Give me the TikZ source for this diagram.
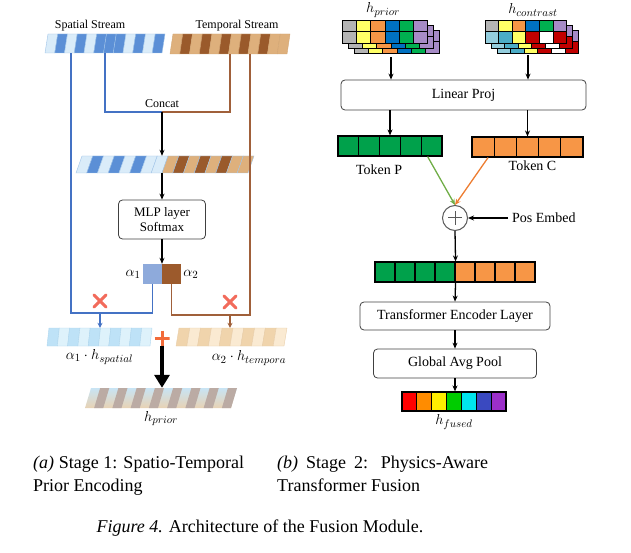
\documentclass[tikz,border=0pt]{standalone}
\usepackage{fontspec}
\setmainfont{Liberation Serif}
\usetikzlibrary{positioning,arrows.meta,shapes.misc}
% stream stripes
\definecolor{spl}{RGB}{218,236,249}
\definecolor{spb}{RGB}{91,143,214}
\definecolor{spe}{RGB}{160,196,232}
\definecolor{tpl}{RGB}{222,176,124}
\definecolor{tpb}{RGB}{154,90,43}
\definecolor{tpe}{RGB}{210,165,115}
\definecolor{wsl}{RGB}{190,226,247}
\definecolor{wsb}{RGB}{222,242,251}
\definecolor{wse}{RGB}{175,214,238}
\definecolor{wtl}{RGB}{240,212,172}
\definecolor{wtb}{RGB}{250,234,210}
\definecolor{wte}{RGB}{232,205,168}
\definecolor{hpg}{RGB}{187,171,164}
\definecolor{hpt}{RGB}{200,228,244}
\definecolor{hpb}{RGB}{232,210,180}
\definecolor{lineblue}{RGB}{68,114,196}
\definecolor{linebrown}{RGB}{160,96,58}
\definecolor{alblue}{RGB}{142,170,219}
\definecolor{albrown}{RGB}{156,90,44}
\definecolor{xred}{RGB}{242,107,91}
\definecolor{plusor}{RGB}{242,107,58}
% grid cells
\definecolor{cgray}{RGB}{180,180,180}
\definecolor{cyel}{RGB}{255,255,102}
\definecolor{cora}{RGB}{247,150,70}
\definecolor{cblu}{RGB}{0,112,192}
\definecolor{cgrn}{RGB}{0,176,80}
\definecolor{cpur}{RGB}{166,139,198}
\definecolor{clbl}{RGB}{147,205,221}
\definecolor{cmbl}{RGB}{75,172,198}
\definecolor{cred}{RGB}{192,0,0}
% tokens
\definecolor{tokg}{RGB}{0,161,75}
\definecolor{toko}{RGB}{247,150,70}
\definecolor{argr}{RGB}{112,173,71}
\definecolor{aror}{RGB}{237,125,49}
\definecolor{fr}{RGB}{255,0,0}
\definecolor{fo}{RGB}{255,140,0}
\definecolor{fy}{RGB}{255,238,0}
\definecolor{fg}{RGB}{0,204,0}
\definecolor{fc}{RGB}{0,229,238}
\definecolor{fb}{RGB}{58,73,192}
\definecolor{fp}{RGB}{155,47,201}

% slanted striped bar: x (bottom left), y (top), stripe width, height, slant, colours, edge colour
\newcommand\slantbar[7]{%
  \foreach \c [count=\i from 0] in {#6}
    \filldraw[fill=\c, draw=#7, line width=.4pt]
      ({#1+\i*#3},{#2+#4}) -- ++(#3,0) -- ++(#5,-#4) -- ++(-#3,0) -- cycle;
}
% one layer of a 2x6 feature grid: x, y, cell width, row 1, row 2
\newcommand\gridlayer[5]{%
  \foreach \c [count=\i from 0] in {#4}
    \filldraw[fill=\c, draw=black, line width=.8pt] ({#1+\i*#3},#2) rectangle ++(#3,11.5);
  \foreach \c [count=\i from 0] in {#5}
    \filldraw[fill=\c, draw=black, line width=.8pt] ({#1+\i*#3},{#2+11.5}) rectangle ++(#3,11.5);
}

\begin{document}
\begin{tikzpicture}[
  x=1pt, y=-1pt,
  lbl/.style={font=\fontsize{12}{14}\selectfont, inner sep=1pt},
  mlbl/.style={font=\fontsize{13}{15}\selectfont, inner sep=1pt},
  mathlbl/.style={font=\fontsize{15}{17}\selectfont, inner sep=1pt},
  rlbl/.style={font=\fontsize{14}{16}\selectfont, inner sep=1pt},
  capt/.style={font=\fontsize{18}{23}\selectfont, inner sep=0pt},
  box/.style={draw=black!75, rounded corners=4pt, line width=.8pt, align=center, inner sep=2pt},
  barspot/.style 2 args={inner sep=0pt, minimum width=#1, minimum height=#2},
  cell/.style={draw=black, line width=1.1pt, minimum height=20pt, inner sep=0pt},
  arr/.style={-{Stealth[length=6pt,width=5pt]}, line width=1.3pt},
  bline/.style={lineblue, line width=1.4pt},
  tline/.style={linebrown, line width=1.4pt},
  nope/.style={cross out, draw=xred, line width=3pt, line cap=round, minimum size=9pt, inner sep=0pt},
  bigarr/.style={-{Triangle[length=13pt,width=15pt]}, line width=4.5pt},
  plussign/.style={minimum size=15pt, inner sep=0pt, path picture={
    \draw[plusor, line width=3pt] (path picture bounding box.north) -- (path picture bounding box.south)
      (path picture bounding box.west) -- (path picture bounding box.east);}},
  sumnode/.style={circle, draw=black!65, line width=1pt, minimum size=25pt, inner sep=0pt, path picture={
    \draw[black!65, line width=1pt] ([xshift=-7pt]path picture bounding box.center) -- ([xshift=7pt]path picture bounding box.center)
      ([yshift=-7pt]path picture bounding box.center) -- ([yshift=7pt]path picture bounding box.center);}},
]
\useasboundingbox (0,0) rectangle (631,553);

% ===== (a) spatio-temporal prior =====
\slantbar{45}{34}{9.75}{19}{3}{spl,spb,spl,spb,spl,spb,spb,spb,spl,spb,spl,spb}{spe}
\node[barspot={120pt}{19pt}] (sp) at (105,43.5) {};
\node[lbl, above=2pt of sp, xshift=-15pt] (spn) {Spatial Stream};
\slantbar{170}{34}{9.75}{20}{3}{tpl,tpb,tpl,tpb,tpl,tpb,tpl,tpb,tpl,tpb,tpl,tpl}{tpe}
\node[barspot={120pt}{20pt}] (tp) at (230,44) {};
\node[lbl, above=2pt of tp, xshift=7pt] (tpn) {Temporal Stream};

% concat
\coordinate (cc) at (162,112);
\draw[bline] ([xshift=60pt]sp.south west) |- (cc);
\draw[tline] ([xshift=60pt]tp.south west) |- (cc);
\node[lbl, above=3pt of cc] (ccn) {Concat};
\slantbar{76}{156}{10.75}{17}{6}{spl,spb,spl,spb,spl,spb,spl,spl,tpl,tpb,tpl,tpb,tpl,tpb,tpl,tpl}{spe}
\node[barspot={178pt}{17pt}] (cat) at (165,164.5) {};
\draw[arr] (cc) -- (cc |- cat.north);

% attention weights
\node[box, mlbl, minimum width=87pt, minimum height=39pt] (mlp) at (162,219.5) {MLP layer\\Softmax};
\draw[arr] (cc |- cat.south) -- (mlp.north);
\node[fill=alblue, minimum width=19pt, minimum height=20pt, inner sep=0pt] (a1) at (152.5,274) {};
\node[fill=albrown, minimum width=19pt, minimum height=20pt, inner sep=0pt] (a2) at (171.5,274) {};
\node[mathlbl, left=1pt of a1] (a1n) {$\alpha_1$};
\node[mathlbl, right=1pt of a2] (a2n) {$\alpha_2$};
\draw[arr] (mlp.south) -- (mlp.south |- a1.north);

% weighted streams
\slantbar{47}{328}{10.3}{18}{2}{wsl,wsb,wsl,wsb,wsl,wsb,wsl,wsb,wsl,wsb}{wse}
\node[barspot={105pt}{18pt}] (ws) at (99.5,337) {};
\slantbar{176}{328}{10.8}{18}{3}{wtl,wtb,wtl,wtb,wtl,wtb,wtl,wtb,wtl,wtb}{wte}
\node[barspot={111pt}{18pt}] (wt) at (231.5,337) {};
\coordinate (bj) at (100,313);
\coordinate (tj) at (230,315);
\draw[bline] ([xshift=26pt]sp.south west) |- (bj) -| (a1.south);
\draw[tline] ([xshift=80pt]tp.south west) |- (tj) -| (a2.south);
\draw[bline, -{Stealth[length=5pt,width=5pt]}] (bj) -- (bj |- ws.north);
\draw[tline, -{Stealth[length=5pt,width=5pt]}] (tj) -- (tj |- wt.north);
\node[nope] (xs) at (100,301) {};
\node[nope] (xt) at (230,302) {};
\node[mathlbl, below=2pt of ws] (wsn) {$\alpha_1\cdot h_{spatial}$};
\node[mathlbl] (wtn) at (249,358) {$\alpha_2\cdot h_{tempora}$};

% fused prior
\node[plussign] (plus) at (162,338) {};
\shade[top color=hpt, bottom color=hpb] (85,408) -- (231,408) -- (237,388) -- (91,388) -- cycle;
\foreach \i in {1,3,...,15}
  \fill[hpg] ({85+\i*9.125},408) -- ++(9.125,0) -- ++(6,-20) -- ++(-9.125,0) -- cycle;
\node[barspot={152pt}{20pt}] (hp) at (161,398) {};
\draw[bigarr] (plus.south) -- (plus.south |- hp.north);
\node[mathlbl, below=2pt of hp] (hpn) {$h_{prior}$};

% ===== (b) physics-aware fusion =====
\gridlayer{354}{30}{14.3}{cgray,cyel,cora,cblu,cgrn,cpur}{cgray,cyel,cora,cblu,cgrn,cpur}
\gridlayer{348}{25}{14.3}{cgray,cyel,cora,cblu,cgrn,cpur}{cgray,cyel,cora,cblu,cgrn,cpur}
\gridlayer{342}{20}{14.3}{cgray,cyel,cora,cblu,cgrn,cpur}{cgray,cyel,cora,cblu,cgrn,cpur}
\node[barspot={98pt}{33pt}] (gp) at (391,36.5) {};
\node[mathlbl] (gpn) at (383,10) {$h_{prior}$};
\gridlayer{497}{30}{13.6}{cgray,cyel,cora,cblu,cgrn,cpur}{clbl,cmbl,cyel,cred,white,cred}
\gridlayer{491}{25}{13.6}{cgray,cyel,cora,cblu,cgrn,cpur}{clbl,cmbl,cyel,cred,white,cred}
\gridlayer{485}{20}{13.6}{cgray,cyel,cora,cblu,cgrn,cpur}{clbl,cmbl,cyel,cred,white,cred}
\node[barspot={94pt}{33pt}] (gc) at (528,36.5) {};
\node[mathlbl] (gcn) at (533,10) {$h_{contrast}$};

\node[box, rlbl, minimum width=245pt, minimum height=30pt] (lin) at (463.5,95) {Linear Proj};
\draw[arr] ([yshift=-4pt]gp.south) -- (gp.south |- lin.north);
\draw[arr] ([yshift=-2pt]gc.south) -- (gc.south |- lin.north);

% tokens
\foreach \i in {1,...,5}
  \node[cell, fill=tokg, minimum width=20.8pt] (p\i) at ({327.6+\i*20.8},146) {};
\foreach \i in {1,...,5}
  \node[cell, fill=toko, minimum width=22.2pt] (c\i) at ({460.9+\i*22.2},147) {};
\draw[arr] (lin.south -| p3) -- (p3.north);
\draw[arr] (lin.south -| c3) -- (c3.north);
\node[rlbl, below=7pt of p3.south west] (pn) {Token P};
\node[rlbl, below=2pt of c3.south, xshift=5pt] (cn) {Token C};

\node[sumnode] (sum) at (455,218) {};
\draw[arr, argr] ([xshift=-4pt]p5.south) -- (sum.north);
\draw[arr, aror] ([xshift=5pt]c1.south) -- (sum.north);
\node[rlbl, anchor=west] (posl) at (511,218) {Pos Embed};
\draw[arr] ([xshift=-3pt]posl.west) -- (sum.east);

\foreach \i in {1,...,4}
  \node[cell, fill=tokg, minimum width=20pt] (k\i) at ({365+\i*20},272) {};
\foreach \i in {5,...,8}
  \node[cell, fill=toko, minimum width=20pt] (k\i) at ({365+\i*20},272) {};
\draw[arr] (sum.south) -- (k4.north east);

\node[box, rlbl, minimum width=190pt, minimum height=28pt] (tel) at (455,316) {Transformer Encoder Layer};
\draw[arr] (k4.south east) -- (tel.north);
\node[box, rlbl, minimum width=163pt, minimum height=29pt] (gap) at (455,363.5) {Global Avg Pool};
\draw[arr] (tel.south) -- (gap.north);
\foreach \c [count=\i] in {fr,fo,fy,fg,fc,fb,fp}
  \node[cell, fill=\c, minimum width=14.86pt, minimum height=19pt] (f\i) at ({394.57+\i*14.86},401.5) {};
\draw[arr] (gap.south) -- (gap.south |- f4.north);
\node[mathlbl, below=2pt of f4] (fun) {$h_{fused}$};

% ===== captions =====
\node[capt, text width=211pt, align=justify, anchor=north west] (capa) at (33,456)
  {\textit{(a)} Stage 1: Spatio-Temporal\linebreak Prior Encoding};
\node[capt, text width=211pt, align=justify, anchor=north west] (capb) at (277,456)
  {\textit{(b)} Stage 2: Physics-Aware\linebreak Transformer Fusion};
\node[capt] (capf) at (260,528) {\textit{Figure 4.} Architecture of the Fusion Module.};
\end{tikzpicture}
\end{document}
